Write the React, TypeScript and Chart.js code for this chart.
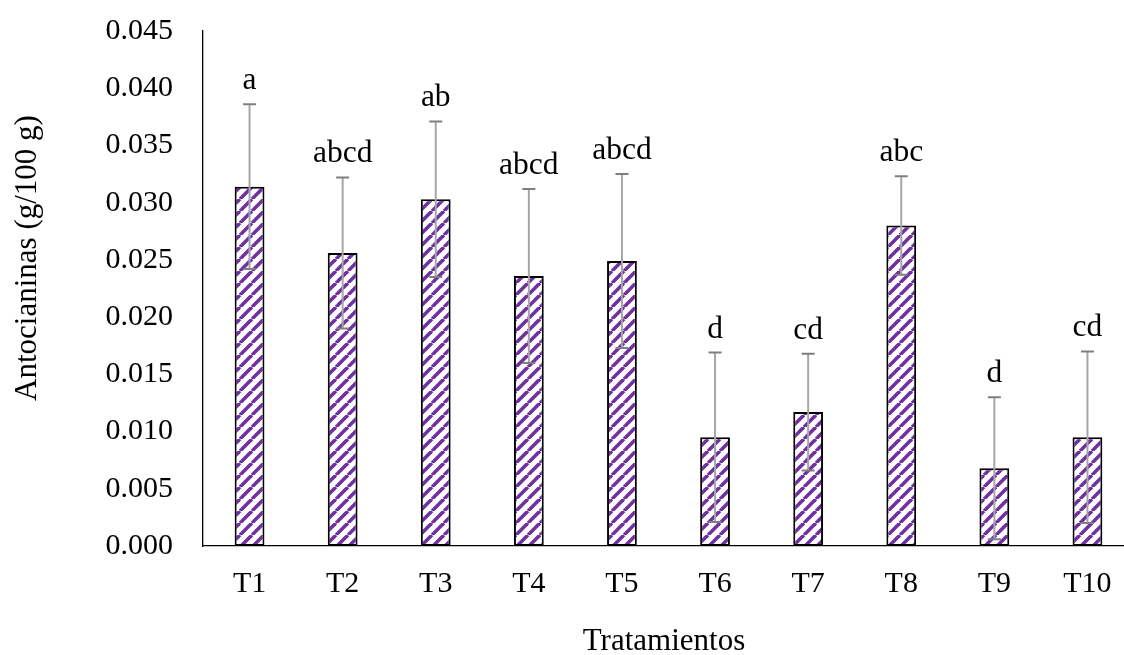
import React, { useEffect, useRef } from "react";
import { Chart, registerables } from "chart.js";

Chart.register(...registerables);

const categories = ["T1", "T2", "T3", "T4", "T5", "T6", "T7", "T8", "T9", "T10"];
const means = [0.0314, 0.0256, 0.0303, 0.0236, 0.0249, 0.0095, 0.0117, 0.028, 0.0068, 0.0095];
const errors = [0.0072, 0.0066, 0.0068, 0.0076, 0.0076, 0.0074, 0.0051, 0.0043, 0.0062, 0.0075];
const letters = ["a", "abcd", "ab", "abcd", "abcd", "d", "cd", "abc", "d", "cd"];
const yTicks = [0, 0.005, 0.01, 0.015, 0.02, 0.025, 0.03, 0.035, 0.04, 0.045];
const xTitle = "Tratamientos";
const yTitle = "Antocianinas (g/100 g)";

const FONT = "'Liberation Serif', 'Times New Roman', serif";
const SHIFT = 17;
const W = 1134;
const H = 655 + SHIFT;

function makePattern(): CanvasPattern | string {
  const c = document.createElement("canvas");
  c.width = 12;
  c.height = 12;
  const ctx = c.getContext("2d");
  if (!ctx) return "#7030A0";
  ctx.fillStyle = "#ffffff";
  ctx.fillRect(0, 0, 12, 12);
  ctx.strokeStyle = "#7030A0";
  ctx.lineWidth = 3.6;
  for (const x0 of [-12, 0, 12]) {
    ctx.beginPath();
    ctx.moveTo(x0, 12);
    ctx.lineTo(x0 + 12, 0);
    ctx.stroke();
  }
  const p = ctx.createPattern(c, "repeat");
  return p || "#7030A0";
}

const errorBarPlugin = {
  id: "errorBars",
  afterDatasetsDraw(chart: any) {
    const ctx = chart.ctx;
    const meta = chart.getDatasetMeta(0);
    const y = chart.scales.y;
    ctx.save();
    meta.data.forEach((bar: any, i: number) => {
      const x = bar.x;
      const top = y.getPixelForValue(means[i] + errors[i]);
      const bot = y.getPixelForValue(means[i] - errors[i]);
      ctx.strokeStyle = "#a6a6a6";
      ctx.lineWidth = 2;
      ctx.beginPath();
      ctx.moveTo(x, top);
      ctx.lineTo(x, bot);
      ctx.stroke();
      ctx.strokeStyle = "#7f7f7f";
      ctx.lineWidth = 2;
      ctx.beginPath();
      ctx.moveTo(x - 6.5, top);
      ctx.lineTo(x + 6.5, top);
      ctx.moveTo(x - 6.5, bot);
      ctx.lineTo(x + 6.5, bot);
      ctx.stroke();
      ctx.fillStyle = "#000";
      ctx.font = `31.5px ${FONT}`;
      ctx.textAlign = "center";
      ctx.textBaseline = "alphabetic";
      ctx.fillText(letters[i], x, top - 15);
    });
    // axis titles
    ctx.fillStyle = "#000";
    ctx.font = `31px ${FONT}`;
    ctx.textAlign = "center";
    ctx.textBaseline = "alphabetic";
    ctx.fillText(xTitle, 664, 650 + SHIFT);
    ctx.translate(36, 258 + SHIFT);
    ctx.rotate(-Math.PI / 2);
    ctx.fillText(yTitle, 0, 0);
    ctx.restore();
  },
};

export default function App() {
  const ref = useRef<HTMLCanvasElement>(null);
  useEffect(() => {
    if (!ref.current) return;
    const pattern = makePattern();
    const chart = new Chart(ref.current, {
      type: "bar",
      data: {
        labels: categories,
        datasets: [
          {
            data: means,
            backgroundColor: pattern as any,
            borderColor: "#000",
            borderWidth: 2,
            borderSkipped: false,
            categoryPercentage: 1,
            barPercentage: 0.32,
          },
        ],
      },
      options: {
        responsive: false,
        animation: false,
        layout: { padding: { top: 0, left: 0, right: 0, bottom: 0 } },
        plugins: { legend: { display: false }, tooltip: { enabled: false } },
        scales: {
          x: {
            grid: { display: false, drawTicks: false },
            border: { display: true, color: "#000", width: 1.3 },
            ticks: { color: "#000", font: { family: FONT, size: 30 }, padding: 20 },
            afterFit: (s: any) => {
              s.height = 109;
            },
          },
          y: {
            min: 0,
            max: 0.045,
            afterBuildTicks: (s: any) => {
              s.ticks = yTicks.map((v) => ({ value: v }));
            },
            grid: { display: false, drawTicks: false },
            border: { display: true, color: "#000", width: 1.3 },
            ticks: {
              color: "#000",
              font: { family: FONT, size: 30 },
              padding: 30,
              callback: (v: any) => Number(v).toFixed(3),
            },
            afterFit: (s: any) => {
              s.width = 203;
            },
          },
        },
      },
      plugins: [errorBarPlugin],
    });
    return () => chart.destroy();
  }, []);
  return (
    <div style={{ position: "fixed", left: 0, top: 0, width: 1124, height: 655, overflow: "hidden", background: "#fff" }}>
      <canvas
        ref={ref}
        width={W}
        height={H}
        style={{ width: W, height: H, display: "block", marginTop: -SHIFT }}
      />
    </div>
  );
}
